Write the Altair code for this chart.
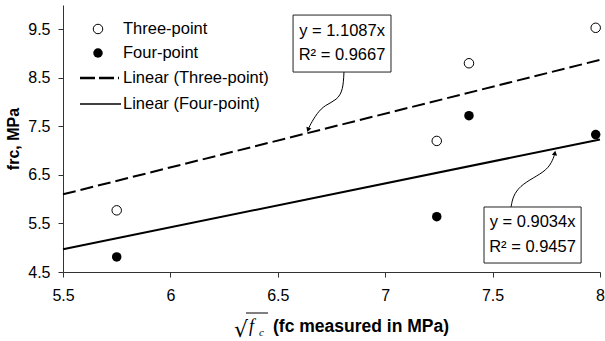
import altair as alt
import pandas as pd

# ---- data ----
x_vals = [5.75, 7.24, 7.39, 7.98]
three_point = [5.77, 7.20, 8.80, 9.53]
four_point = [4.81, 5.64, 7.72, 7.33]
trend_x = [5.5, 8.0]
trend_three = [6.10, 8.87]
trend_four = [4.97, 7.23]
legend_labels = ["Three-point", "Four-point", "Linear (Three-point)", "Linear (Four-point)"]
x_ticks = [5.5, 6, 6.5, 7, 7.5, 8]
y_ticks = [4.5, 5.5, 6.5, 7.5, 8.5, 9.5]
eq_three = ["y = 1.1087x", "R\u00b2 = 0.9667"]
eq_four = ["y = 0.9034x", "R\u00b2 = 0.9457"]

# annotation geometry (data units)
box_three = dict(x=6.571, x2=7.027, y=9.793, y2=8.619)
box_four = dict(x=7.460, x2=7.912, y=5.839, y2=4.685)
curve_three_x = [6.808, 6.804, 6.776, 6.720, 6.683, 6.650, 6.641]
curve_three_y = [8.619, 8.249, 8.043, 7.940, 7.775, 7.528, 7.430]
curve_four_x = [7.586, 7.595, 7.628, 7.688, 7.753, 7.781, 7.790]
curve_four_y = [5.839, 6.065, 6.271, 6.436, 6.601, 6.807, 6.950]

FONT = "Liberation Sans"

pts = pd.DataFrame({
    "x": x_vals * 2,
    "y": three_point + four_point,
    "series": ["Three-point"] * 4 + ["Four-point"] * 4,
})
tr3 = pd.DataFrame({"x": trend_x, "y": trend_three})
tr4 = pd.DataFrame({"x": trend_x, "y": trend_four})

xs = alt.Scale(domain=[5.5, 8], nice=False, zero=False)
ys = alt.Scale(domain=[4.5, 10], nice=False, zero=False)
xaxis = alt.Axis(values=x_ticks, format="~g", title=None, grid=False, labelFlush=False,
                 tickSize=5, labelPadding=10, labelFontSize=16, labelFont=FONT,
                 labelColor="black", domainColor="#333", tickColor="#333")
yaxis = alt.Axis(values=y_ticks, format=".1f", title="frc, MPa", grid=False, labelFlush=False,
                 tickSize=5, labelPadding=8, labelFontSize=16, labelFont=FONT,
                 labelColor="black", domainColor="#333", tickColor="#333",
                 titleFont=FONT, titleFontSize=16, titleFontWeight="bold",
                 titleColor="black", titlePadding=6)

def X(field="x"):
    return alt.X(f"{field}:Q", scale=xs, axis=xaxis)

def Y(field="y"):
    return alt.Y(f"{field}:Q", scale=ys, axis=yaxis)

line3 = alt.Chart(tr3).mark_line(color="black", strokeWidth=2, strokeDash=[13, 5], clip=False).encode(x=X(), y=Y())
line4 = alt.Chart(tr4).mark_line(color="black", strokeWidth=2, clip=False).encode(x=X(), y=Y())

open_pts = alt.Chart(pts[pts.series == "Three-point"]).mark_point(
    shape="circle", filled=True, fill="white", stroke="black", strokeWidth=1, size=90, opacity=1
).encode(x=X(), y=Y())
fill_pts = alt.Chart(pts[pts.series == "Four-point"]).mark_point(
    shape="circle", filled=True, fill="black", size=90, opacity=1
).encode(x=X(), y=Y())

# annotation curves
c3 = pd.DataFrame({"x": curve_three_x, "y": curve_three_y, "o": range(len(curve_three_x))})
c4 = pd.DataFrame({"x": curve_four_x, "y": curve_four_y, "o": range(len(curve_four_x))})
curve3 = alt.Chart(c3).mark_line(color="black", strokeWidth=1, interpolate="basis", clip=False).encode(
    x=X(), y=Y(), order="o:Q")
curve4 = alt.Chart(c4).mark_line(color="black", strokeWidth=1, interpolate="basis", clip=False).encode(
    x=X(), y=Y(), order="o:Q")
arrow3 = alt.Chart(c3.tail(1)).mark_point(shape="triangle-down", filled=True, color="black", size=28, opacity=1, angle=20).encode(x=X(), y=Y())
arrow4 = alt.Chart(c4.tail(1)).mark_point(shape="triangle-up", filled=True, color="black", size=28, opacity=1, angle=10).encode(x=X(), y=Y())

# boxes
bx = pd.DataFrame([box_three, box_four])
boxes = alt.Chart(bx).mark_rect(fill="white", stroke="#222", strokeWidth=1, clip=False).encode(
    x=X("x"), x2="x2:Q", y=Y("y"), y2="y2:Q")

eq_df = pd.DataFrame({
    "x": [6.799, 6.799, 7.686, 7.686],
    "y": [9.464, 8.970, 5.530, 5.015],
    "t": eq_three + eq_four,
})
eq_text = alt.Chart(eq_df).mark_text(font=FONT, fontSize=16.5, color="black", align="center", baseline="middle").encode(
    x=X(), y=Y(), text="t:N")

# legend (manual)
one = pd.DataFrame({"k": [0]})
def leg_text(i, ypix):
    return alt.Chart(one).mark_text(font=FONT, fontSize=16.5, color="black", align="left", baseline="middle").encode(
        x=alt.value(60), y=alt.value(ypix), text=alt.value(legend_labels[i]))

leg = [
    alt.Chart(one).mark_point(shape="circle", filled=True, fill="white", stroke="black", strokeWidth=1, size=90, opacity=1).encode(
        x=alt.value(35), y=alt.value(24)),
    alt.Chart(one).mark_point(shape="circle", filled=True, fill="black", size=90, opacity=1).encode(
        x=alt.value(35), y=alt.value(48)),
    alt.Chart(one).mark_rule(color="black", strokeWidth=2.5, strokeDash=[15, 4]).encode(
        x=alt.value(17), x2=alt.value(56), y=alt.value(73)),
    alt.Chart(one).mark_rule(color="black", strokeWidth=1.5).encode(
        x=alt.value(17), x2=alt.value(58), y=alt.value(99)),
    leg_text(0, 24), leg_text(1, 48), leg_text(2, 73), leg_text(3, 99),
]

# x-axis title: sqrt(f_c) (fc measured in MPa)
xt = [
    alt.Chart(one).mark_text(font="DejaVu Sans", fontSize=22, color="black", align="left", baseline="alphabetic").encode(
        x=alt.value(171), y=alt.value(332), text=alt.value("\u221a")),
    alt.Chart(one).mark_rule(color="black", strokeWidth=1).encode(
        x=alt.value(183), x2=alt.value(205), y=alt.value(308)),
    alt.Chart(one).mark_text(font="Liberation Serif", fontSize=18, fontStyle="italic", color="black", align="left", baseline="alphabetic").encode(
        x=alt.value(186), y=alt.value(327), text=alt.value("f")),
    alt.Chart(one).mark_text(font="Liberation Serif", fontSize=11, fontStyle="italic", color="black", align="left", baseline="alphabetic").encode(
        x=alt.value(196), y=alt.value(331), text=alt.value("c")),
    alt.Chart(one).mark_text(font=FONT, fontSize=17.5, fontWeight="bold", color="black", align="left", baseline="alphabetic").encode(
        x=alt.value(210), y=alt.value(327), text=alt.value("(fc measured in MPa)")),
]

chart = alt.layer(
    line3, line4, curve3, curve4, arrow3, arrow4, boxes, eq_text, open_pts, fill_pts, *leg, *xt
).properties(
    width=537, height=267,
    autosize=alt.AutoSizeParams(type="none"),
    padding={"left": 63, "top": 5, "right": 5, "bottom": 69},
    background="white",
).configure_view(stroke=None)

chart.save("out.html", embed_options={"renderer": "svg", "actions": False})
